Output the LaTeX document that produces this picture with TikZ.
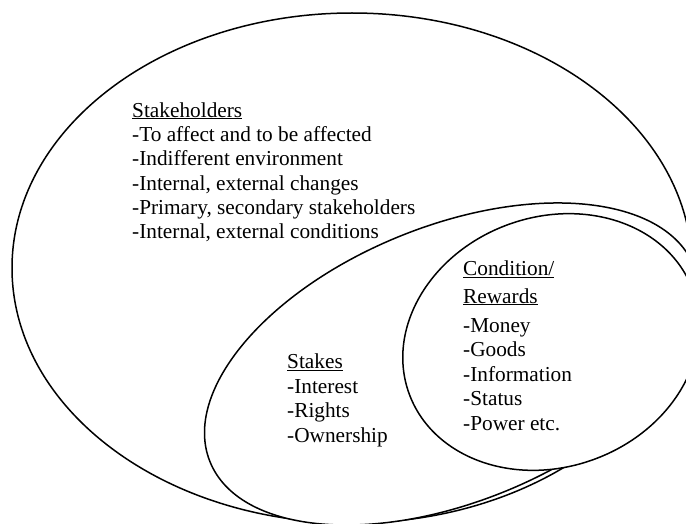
\documentclass[tikz,border=0pt]{standalone}
\usepackage{fontspec}
\setmainfont{Liberation Serif}
\usetikzlibrary{shapes.geometric}
\tikzset{
  oval/.style  = {ellipse, draw, line width=1.5pt, fill=white, inner sep=0},
  lista/.style = {align=left, anchor=base west, inner sep=0, font=\fontsize{21.3}{24.4}\selectfont}
}
\newcommand{\titolo}[1]{\underline{\smash{#1}}}

\begin{document}
\begin{tikzpicture}[x=1pt, y=-1pt]
  \clip (0,0) rectangle (686,524);

  % ellissi
  \node[oval, minimum width=680pt, minimum height=510pt] (SH) at (352,268) {};
  \node[oval, minimum width=522pt, minimum height=276pt, rotate=22] (ST) at (452,364) {};
  \node[oval, minimum width=302pt, minimum height=250pt, rotate=20] (CR) at (551,342) {};

  % testi (ancorati all'ultima riga)
  \node[lista] (tSH) at (132,239) {\titolo{Stakeholders}\\-To affect and to be affected\\-Indifferent environment\\-Internal, external changes\\-Primary, secondary stakeholders\\-Internal, external conditions};
  \node[lista] (tST) at (287,442) {\titolo{Stakes}\\-Interest\\-Rights\\-Ownership};
  \node[lista] (tCR) at (463,430) {\titolo{Condition/}\\[3pt]\titolo{Rewards}\\[5pt]-Money\\-Goods\\-Information\\-Status\\-Power etc.};
\end{tikzpicture}
\end{document}
